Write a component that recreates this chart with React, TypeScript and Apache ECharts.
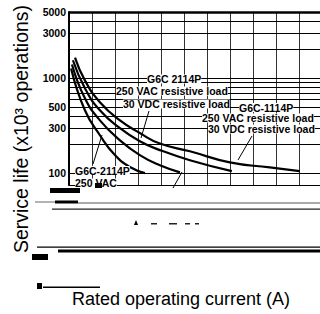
import { useEffect, useRef } from "react";
import * as echarts from "echarts";

// Horizontal grid values (log axis) and which of them carry tick labels
const yGridValues = [100, 200, 300, 400, 500, 600, 700, 800, 900, 1000, 2000, 3000, 4000, 5000];
const yTickLabels = [100, 300, 500, 1000, 3000, 5000];

// Curves: rated operating current (A) vs service life (x10^3 operations)
const curve1X = [0.09, 0.69, 1.34, 1.99, 2.64, 3.29];
const curve1Y = [1270, 460, 251, 155, 116, 100];
const curve2X = [0.13, 0.69, 1.34, 2.21, 3.07, 3.94, 4.81];
const curve2Y = [1400, 615, 360, 222, 155, 121, 102];
const curve3X = [0.17, 0.69, 1.34, 2.21, 3.07, 3.94, 5.24, 7.06];
const curve3Y = [1550, 785, 460, 298, 217, 175, 137, 105];
const curve4X = [0.26, 0.69, 1.34, 2.21, 3.07, 3.94, 5.24, 6.97, 8.7, 10];
const curve4Y = [1650, 950, 560, 360, 265, 205, 170, 130, 115, 105];

const curves = [
  [curve1X, curve1Y],
  [curve2X, curve2Y],
  [curve3X, curve3Y],
  [curve4X, curve4Y],
];

const FONT = "'Liberation Sans', Arial, Helvetica, sans-serif";

const labelTexts = [
  { t: "G6C 2114P", x: 147, y: 79 },
  { t: "250 VAC resistive load", x: 116, y: 91 },
  { t: "30 VDC resistive load", x: 123, y: 104 },
  { t: "G6C-1114P", x: 239, y: 107.5 },
  { t: "250 VAC resistive load", x: 202, y: 118 },
  { t: "30 VDC resistive load", x: 208, y: 129 },
  { t: "G6C-2114P", x: 75, y: 170.5 },
  { t: "250 VAC", x: 75, y: 183 },
];

export default function App() {
  const ref = useRef<HTMLDivElement>(null);

  useEffect(() => {
    if (!ref.current) return;
    const chart = echarts.init(ref.current, null, { renderer: "svg" });

    const series: any[] = curves.map(([xs, ys], i) => ({
      type: "line",
      data: xs.map((x, k) => [x, ys[k]]),
      smooth: 0.5,
      symbol: "none",
      lineStyle: { color: "#000", width: 2.2 },
      z: 5,
      ...(i === 0
        ? {
            markLine: {
              silent: true,
              symbol: ["none", "none"],
              animation: false,
              data: yGridValues.map((v) => ({
                yAxis: v,
                lineStyle: { color: "#000", width: v === 5000 ? 2.5 : 1, type: "solid" },
                label: {
                  show: yTickLabels.includes(v),
                  position: "start",
                  distance: 3,
                  formatter: String(v),
                  color: "#000",
                  fontFamily: FONT,
                  fontWeight: "bold",
                  fontSize: 10.5,
                },
              })),
            },
          }
        : {}),
    }));

    const graphic: any[] = [
      // titles
      {
        type: "text",
        x: 21,
        y: 129,
        rotation: Math.PI / 2,
        style: {
          text: "Service life (x10³ operations)",
          fill: "#000",
          fontFamily: FONT,
          fontSize: 19.5,
          textAlign: "center",
          textVerticalAlign: "middle",
          align: "center",
          verticalAlign: "middle",
        },
      },
      {
        type: "text",
        x: 181,
        y: 299,
        style: {
          text: "Rated operating current (A)",
          fill: "#000",
          fontFamily: FONT,
          fontSize: 18,
          textAlign: "center",
          textVerticalAlign: "middle",
          align: "center",
          verticalAlign: "middle",
        },
      },
      // annotation labels
      ...labelTexts.map((l) => ({
        type: "text",
        x: l.x,
        y: l.y,
        z: 10,
        style: {
          text: l.t,
          fill: "#000",
          fontFamily: FONT,
          fontWeight: "bold",
          fontSize: 10.5,
          lineHeight: 9,
          backgroundColor: "#fff",
          textAlign: "left",
          textVerticalAlign: "middle",
          align: "left",
          verticalAlign: "middle",
        },
      })),
      // arrows
      ...[
        [149, 111, 141, 138],
        [252, 136, 238, 160],
        [93, 164, 102, 135],
        [173, 188, 182, 172],
      ].map(([x1, y1, x2, y2]) => ({
        type: "line",
        z: 10,
        shape: { x1, y1, x2, y2 },
        style: { stroke: "#000", lineWidth: 1 },
      })),
      // scan artifacts at the bottom
      { type: "rect", z: 11, shape: { x: 50, y: 188, width: 30, height: 5 }, style: { fill: "#000" } },
      { type: "rect", z: 11, shape: { x: 95, y: 183, width: 7, height: 5 }, style: { fill: "#000" } },
      { type: "rect", z: 11, shape: { x: 35, y: 201.5, width: 20, height: 1 }, style: { fill: "#666" } },
      { type: "rect", z: 11, shape: { x: 55, y: 200.5, width: 23, height: 3 }, style: { fill: "#000" } },
      { type: "rect", z: 11, shape: { x: 78, y: 202, width: 242, height: 2 }, style: { fill: "#aaa" } },
      { type: "rect", z: 11, shape: { x: 52, y: 208.5, width: 268, height: 1.2 }, style: { fill: "#222" } },
      { type: "polygon", z: 11, shape: { points: [[134, 225], [136, 220], [138, 225]] }, style: { fill: "#000" } },
      { type: "rect", z: 11, shape: { x: 151, y: 223, width: 6, height: 1.5 }, style: { fill: "#222" } },
      { type: "rect", z: 11, shape: { x: 169, y: 223, width: 8, height: 1.5 }, style: { fill: "#222" } },
      { type: "rect", z: 11, shape: { x: 185, y: 223, width: 5, height: 1.5 }, style: { fill: "#222" } },
      { type: "rect", z: 11, shape: { x: 195, y: 223, width: 4, height: 1.5 }, style: { fill: "#222" } },
      { type: "rect", z: 11, shape: { x: 37, y: 246.5, width: 283, height: 1.2 }, style: { fill: "#000" } },
      { type: "rect", z: 11, shape: { x: 58, y: 249.5, width: 262, height: 3 }, style: { fill: "#000" } },
      { type: "rect", z: 11, shape: { x: 32, y: 254, width: 16, height: 6 }, style: { fill: "#000" } },
      { type: "rect", z: 11, shape: { x: 43, y: 286.5, width: 57, height: 1.5 }, style: { fill: "#000" } },
      { type: "rect", z: 11, shape: { x: 37, y: 283, width: 5, height: 6 }, style: { fill: "#000" } },
    ];

    chart.setOption({
      animation: false,
      grid: { left: 69, top: 12, right: 0, bottom: 129, containLabel: false, outerBoundsMode: "none" },
      xAxis: {
        type: "value",
        min: 0,
        max: 10.88,
        interval: 1,
        axisLabel: { show: false },
        axisTick: { show: false },
        axisLine: { show: true, lineStyle: { color: "#000", width: 1 } },
        splitLine: { show: true, lineStyle: { color: "#333", width: 1 } },
      },
      yAxis: {
        type: "log",
        logBase: 10,
        min: 75,
        max: 5000,
        axisLabel: { show: false },
        axisTick: { show: false },
        splitLine: { show: false },
        axisLine: { show: true, onZero: false, lineStyle: { color: "#000", width: 2 } },
      },
      series,
      graphic,
    });

    return () => chart.dispose();
  }, []);

  return (
    <div
      ref={ref}
      style={{ position: "fixed", left: 0, top: 0, width: 320, height: 314, background: "#fff" }}
    />
  );
}
